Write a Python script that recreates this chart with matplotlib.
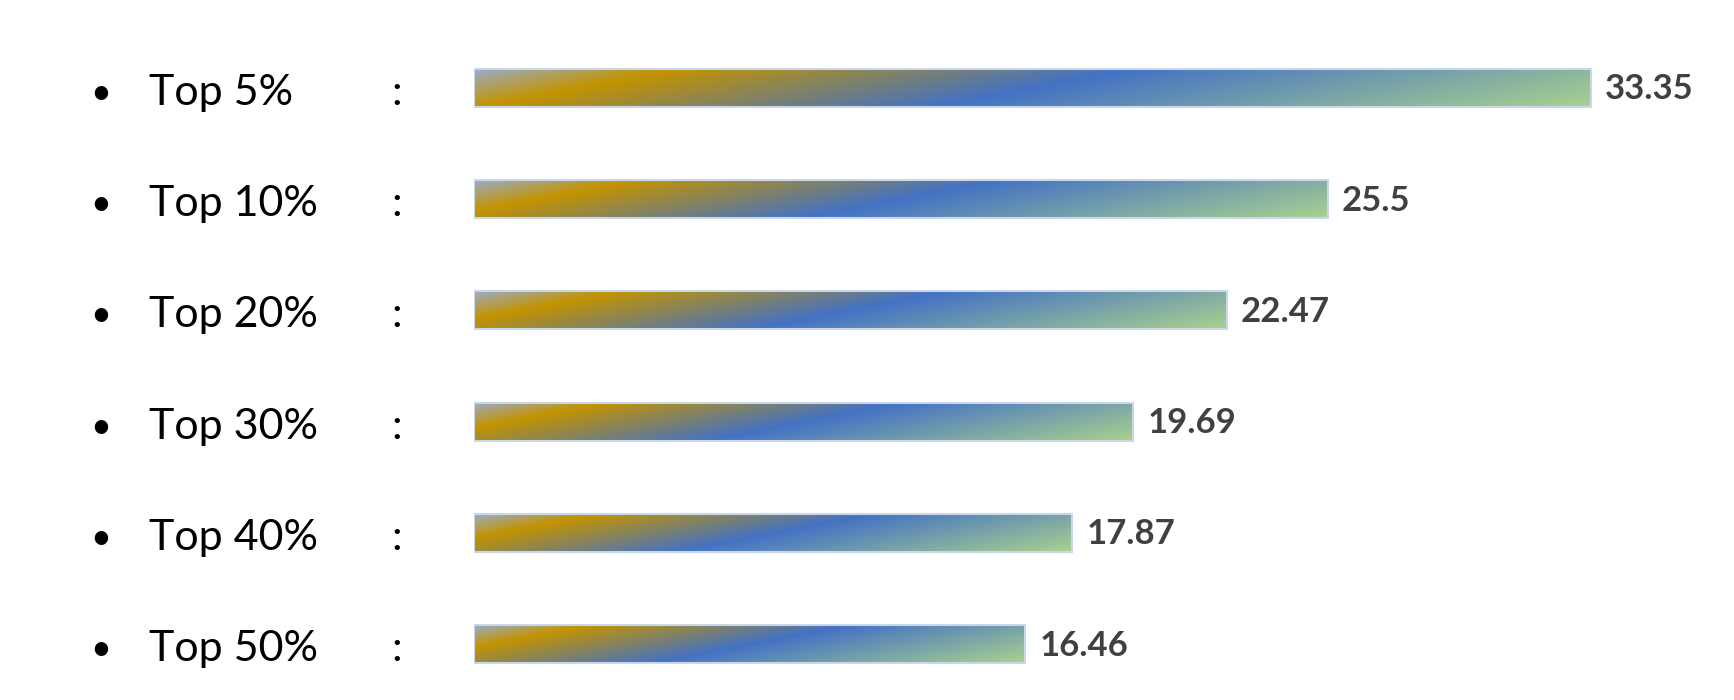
import numpy as np
import matplotlib.pyplot as plt
from matplotlib.colors import LinearSegmentedColormap, to_rgb
from matplotlib.patches import Rectangle
import matplotlib.transforms as mtransforms

# data
categories = ['Top 5%', 'Top 10%', 'Top 20%', 'Top 30%', 'Top 40%', 'Top 50%']
values = [33.35, 25.5, 22.47, 19.69, 17.87, 16.46]

# gradient used inside each bar (office style)
stops = [(0.0, '#9cabc3'), (0.15, '#c39300'), (0.5, '#4472c4'), (1.0, '#a9d18e')]
cmap = LinearSegmentedColormap.from_list('bar_grad', [(p, to_rgb(c)) for p, c in stops])

W, H = 1734, 700
fig = plt.figure(figsize=(W / 100, H / 100), dpi=100)
x0 = 474 / W
ax = fig.add_axes([x0, 0, 1 - x0, 1])

px_per_unit = 33.49
row_px = 111.2
first_px = 88
bar_h = 38 / row_px

ax.set_xlim(0, (W - 474) / px_per_unit)
ylim = (-(first_px) / row_px, (H - first_px) / row_px)
ax.set_ylim(ylim[1], ylim[0])
ax.axis('off')

slant = 5.0  # how far the colour bands lean
for i, (cat, v) in enumerate(zip(categories, values)):
    L = v * px_per_unit
    Hb = 38
    xs = np.linspace(0, L, int(L))
    ys = np.linspace(0, Hb, Hb)
    X, Y = np.meshgrid(xs, ys)
    t = (X + slant * Y) / (L + slant * Hb)
    img = cmap(t)
    ax.imshow(img, extent=(0, v, i + bar_h / 2, i - bar_h / 2),
              origin='upper', aspect='auto', interpolation='bilinear', zorder=2)
    ax.add_patch(Rectangle((0, i - bar_h / 2), v, bar_h, fill=False,
                           edgecolor='#c8d7ea', linewidth=1.5, zorder=3))
    ax.text(v + 14 / px_per_unit, i + 1.5 / row_px, f'{v:g}', va='center', ha='left',
            fontsize=25, fontweight='bold', color='#404040', family='Lato', zorder=4)

ax.set_xlim(0, (W - 474) / px_per_unit)
ax.set_ylim(ylim[1], ylim[0])

trans = mtransforms.blended_transform_factory(fig.transFigure, ax.transData)
base_off = 17 / row_px
for i, cat in enumerate(categories):
    ax.text(101 / W, i + base_off - 1 / row_px, '\u2022', transform=trans, ha='center',
            va='baseline', fontsize=26, family='Lato', color='black')
    ax.text(149 / W, i + base_off, cat, transform=trans, ha='left', va='baseline',
            fontsize=31, family='Lato', color='black')
    ax.text(397 / W, i + base_off, ':', transform=trans, ha='center', va='baseline',
            fontsize=31, family='Lato', color='black')

fig.savefig('out.png', dpi=100, facecolor='white')
